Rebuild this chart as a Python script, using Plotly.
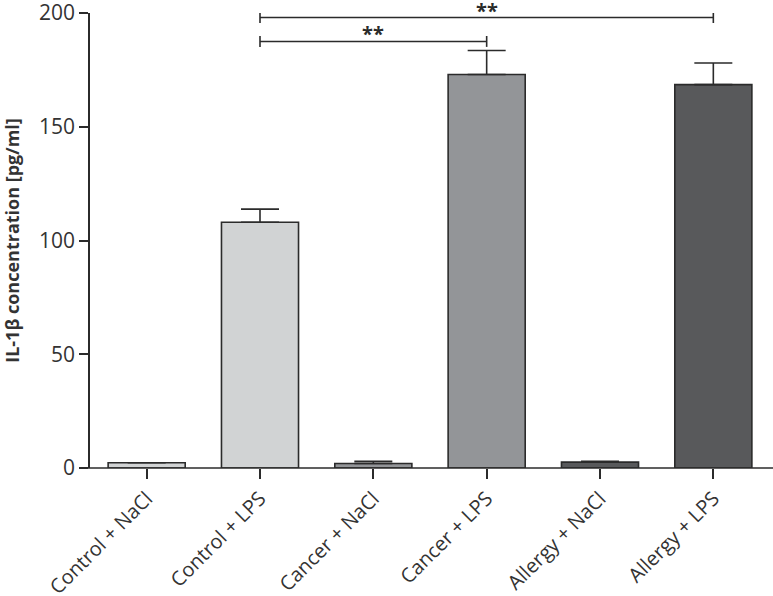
import plotly.graph_objects as go

groups = ["Control + NaCl", "Control + LPS", "Cancer + NaCl", "Cancer + LPS", "Allergy + NaCl", "Allergy + LPS"]
means = [2.3, 108, 2.0, 173, 2.6, 168.5]
errors = [0, 5.8, 0.9, 10.5, 0.4, 9.5]
colors = ["#d1d3d4", "#d1d3d4", "#939598", "#939598", "#58595b", "#58595b"]

# significance brackets: (from group, to group, height, label)
brackets = [
    ("Control + LPS", "Allergy + LPS", 198, "**"),
    ("Control + LPS", "Cancer + LPS", 187.5, "**"),
]

ink = "#2b2b2b"

fig = go.Figure()
fig.add_trace(go.Bar(
    x=groups, y=means, width=0.68,
    marker=dict(color=colors, line=dict(color=ink, width=1.6)),
    error_y=dict(type="data", symmetric=False, array=errors, arrayminus=[0] * 6,
                 color=ink, thickness=1.6, width=19),
    showlegend=False,
))

for a, b, h, lab in brackets:
    fig.add_trace(go.Scatter(x=[a, b], y=[h, h], mode="lines",
                             line=dict(color=ink, width=1.6), showlegend=False,
                             cliponaxis=False, hoverinfo="skip"))
    for g in (a, b):
        fig.add_trace(go.Scatter(x=[g, g], y=[h - 2.4, h + 2.4], mode="lines",
                                 line=dict(color=ink, width=1.6), showlegend=False,
                                 cliponaxis=False, hoverinfo="skip"))
    ia, ib = groups.index(a), groups.index(b)
    fig.add_annotation(x=(ia + ib) / 2, y=h, text="<b>" + lab + "</b>", showarrow=False,
                       yanchor="bottom", yshift=-8, font=dict(size=20, color=ink))

# x axis baseline runs a little past the y axis on the left (Prism style)
fig.add_shape(type="line", xref="paper", yref="paper", x0=-10 / 680, x1=1 + 3 / 680, y0=0, y1=0,
              line=dict(color=ink, width=1.6))

fig.update_layout(
    width=773, height=596,
    margin=dict(l=90, r=3, t=13, b=128),
    plot_bgcolor="white", paper_bgcolor="white",
    font=dict(family="Open Sans", color="#333333"),
    xaxis=dict(
        range=[-0.5, 5.5], showline=False,
        ticks="outside", ticklen=10, tickwidth=1.6, tickcolor=ink,
        tickangle=-45, tickfont=dict(size=20, color="#333333"),
        showgrid=False, zeroline=False, automargin=False,
    ),
    yaxis=dict(
        range=[0, 200], tickmode="linear", tick0=0, dtick=50,
        showline=True, linecolor=ink, linewidth=1.6,
        ticks="outside", ticklen=9, tickwidth=1.6, tickcolor=ink,
        tickfont=dict(size=21, color="#333333"), ticklabelstandoff=0,
        ticklabeloverflow="allow",
        showgrid=False, zeroline=False, automargin=False,
        title=dict(text="<b>IL-1β concentration [pg/ml]</b>", font=dict(size=18, color="#333333"), standoff=16),
    ),
)

fig.write_html("out.html", config={"displayModeBar": False},
               post_script="document.body.style.margin='0px';")
